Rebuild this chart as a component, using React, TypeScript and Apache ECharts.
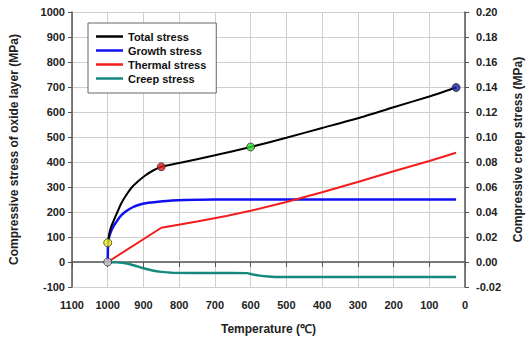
import React, { useEffect, useRef } from "react";
import * as echarts from "echarts";

// Temperature (°C) / value pairs
const totalTemps = [1000, 995, 990, 982, 972, 963, 950, 933, 915, 895, 873, 850, 800, 700, 600, 500, 400, 300, 200, 100, 25];
const totalValues = [77, 118, 143, 170, 203, 232, 264, 298, 323, 346, 366, 381, 396, 427, 460, 497, 536, 575, 619, 662, 698];

const growthTemps = [1000, 999, 996, 992, 985, 978, 965, 950, 930, 914, 890, 859, 820, 783, 700, 600, 400, 200, 25];
const growthValues = [0, 75, 100, 118, 140, 156, 182, 202, 219, 228, 236, 241, 246, 248, 250, 250, 250, 250, 250];

const thermalTemps = [1000, 850, 750, 668, 600, 500, 400, 300, 200, 100, 25];
const thermalValues = [0, 137, 162, 184, 205, 240, 279, 320, 363, 404, 437];

// creep stress on the right axis (MPa)
const creepTemps = [1000, 975, 950, 925, 900, 875, 850, 820, 700, 610, 595, 575, 550, 520, 400, 200, 25];
const creepValues = [0, -0.0003, -0.001, -0.0028, -0.005, -0.0068, -0.0079, -0.0086, -0.0088, -0.0089, -0.0099, -0.0109, -0.0116, -0.012, -0.012, -0.012, -0.012];

const markerTemps = [1000, 1000, 850, 600, 25];
const markerValues = [0, 77, 381, 460, 698];

const xTicks = { min: 0, max: 1100, interval: 100 };
const leftTicks = { min: -100, max: 1000, interval: 100 };
const rightTicks = { min: -0.02, max: 0.2, interval: 0.02 };

const MARKER_COLORS = ["#cac4d2", "#f2ee10", "#e01818", "#2ee02e", "#1c1ca8"];
const FONT = "'Liberation Sans', Arial, sans-serif";
const AXIS_COLOR = "#555";
const LABEL_COLOR = "#222";

function pairs(xs: number[], ys: number[]) {
  return xs.map((x, i) => [x, ys[i]]);
}

export default function App() {
  const ref = useRef<HTMLDivElement>(null);
  useEffect(() => {
    if (!ref.current) return;
    const chart = echarts.init(ref.current, undefined, { renderer: "svg" });
    const axisLabel = { color: LABEL_COLOR, fontFamily: FONT, fontWeight: "bold" as const, fontSize: 11 };
    const nameStyle = { color: LABEL_COLOR, fontFamily: FONT, fontWeight: "bold" as const, fontSize: 12 };
    chart.setOption({
      animation: false,
      backgroundColor: "#fff",
      grid: { left: 72, right: 57, top: 12, bottom: 55 },
      legend: {
        data: ["Total stress", "Growth stress", "Thermal stress", "Creep stress"],
        orient: "vertical",
        left: 88,
        top: 23,
        backgroundColor: "#fff",
        borderColor: "#666",
        borderWidth: 1,
        borderRadius: 0,
        padding: [8, 10, 9, 8],
        icon: "rect",
        itemWidth: 27,
        itemHeight: 2.5,
        itemGap: 3,
        textStyle: { color: "#111", fontFamily: FONT, fontWeight: "bold", fontSize: 11 },
      },
      xAxis: {
        type: "value",
        inverse: true,
        min: xTicks.min,
        max: xTicks.max,
        interval: xTicks.interval,
        name: "Temperature (\u2103)",
        nameLocation: "middle",
        nameGap: 36,
        nameTextStyle: nameStyle,
        axisLine: { show: true, lineStyle: { color: AXIS_COLOR, width: 1.5 } },
        axisTick: { show: true, length: 5, lineStyle: { color: AXIS_COLOR } },
        axisLabel: { ...axisLabel, margin: 12, formatter: (v: number) => String(v) },
        splitLine: { show: true, lineStyle: { color: "#cfcfcf", width: 1 } },
      },
      yAxis: [
        {
          type: "value",
          position: "left",
          min: leftTicks.min,
          max: leftTicks.max,
          interval: leftTicks.interval,
          name: "Compressive stress of oxide layer (MPa)",
          nameLocation: "middle",
          nameRotate: 90,
          nameGap: 52,
          nameTextStyle: nameStyle,
          axisLine: { show: true, onZero: false, lineStyle: { color: AXIS_COLOR, width: 1.5 } },
          axisTick: { show: true, length: 4, lineStyle: { color: AXIS_COLOR } },
          axisLabel: { ...axisLabel, margin: 7, formatter: (v: number) => String(v) },
          splitLine: { show: true, lineStyle: { color: "#cfcfcf", width: 1 } },
        },
        {
          type: "value",
          position: "right",
          min: rightTicks.min,
          max: rightTicks.max,
          interval: rightTicks.interval,
          name: "Compressive creep stress (MPa)",
          nameLocation: "middle",
          nameRotate: 90,
          nameGap: 46,
          nameTextStyle: nameStyle,
          axisLine: { show: true, onZero: false, lineStyle: { color: AXIS_COLOR, width: 1.5 } },
          axisTick: { show: true, length: 4, lineStyle: { color: AXIS_COLOR } },
          axisLabel: { ...axisLabel, margin: 11, formatter: (v: number) => v.toFixed(2) },
          splitLine: { show: false },
        },
      ],
      series: [
        {
          name: "Total stress",
          type: "line",
          data: pairs(totalTemps, totalValues),
          symbol: "none",
          smooth: 0.2,
          color: "#000",
          lineStyle: { color: "#000", width: 2 },
          z: 4,
        },
        {
          name: "Growth stress",
          type: "line",
          data: pairs(growthTemps, growthValues),
          symbol: "none",
          smooth: 0.2,
          color: "#1010f0",
          lineStyle: { color: "#1010f0", width: 2.5 },
          z: 3,
        },
        {
          name: "Thermal stress",
          type: "line",
          data: pairs(thermalTemps, thermalValues),
          symbol: "none",
          color: "#f41c1c",
          lineStyle: { color: "#f41c1c", width: 2 },
          z: 3,
        },
        {
          name: "Creep stress",
          type: "line",
          yAxisIndex: 1,
          data: pairs(creepTemps, creepValues),
          symbol: "none",
          smooth: 0.2,
          color: "#16897f",
          lineStyle: { color: "#16897f", width: 2.5 },
          z: 3,
        },
        {
          name: "markers",
          type: "scatter",
          symbolSize: 8,
          z: 10,
          data: markerTemps.map((t, i) => ({
            value: [t, markerValues[i]],
            itemStyle: { color: MARKER_COLORS[i], borderColor: "#333", borderWidth: 1 },
          })),
        },
      ],
    });
    return () => chart.dispose();
  }, []);
  return (
    <div
      ref={ref}
      style={{ position: "absolute", left: 0, top: 0, width: 532, height: 342 }}
    />
  );
}
